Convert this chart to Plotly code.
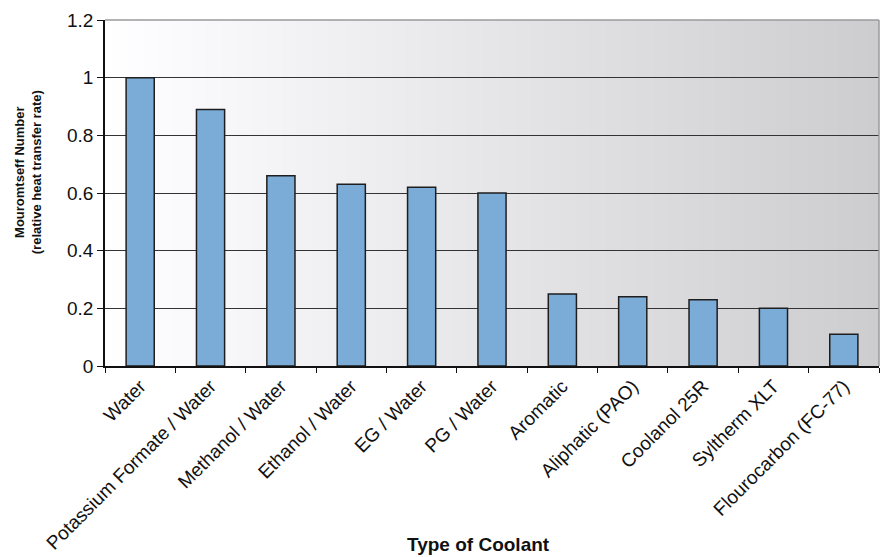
import base64, struct, zlib
import plotly.graph_objects as go

categories = ["Water", "Potassium Formate / Water", "Methanol / Water", "Ethanol / Water",
              "EG / Water", "PG / Water", "Aromatic", "Aliphatic (PAO)", "Coolanol 25R",
              "Syltherm XLT", "Flourocarbon (FC-77)"]
values = [1.0, 0.89, 0.66, 0.63, 0.62, 0.60, 0.25, 0.24, 0.23, 0.20, 0.11]
y_ticks = [0, 0.2, 0.4, 0.6, 0.8, 1, 1.2]
y_tick_labels = ["0", "0.2", "0.4", "0.6", "0.8", "1", "1.2"]
x_title = "Type of Coolant"
y_title = "Mouromtseff Number<br>(relative heat transfer rate)"


def gradient_png(w=256, left=255, right=205):
    row = b"\x00"
    for i in range(w):
        v = int(round(left + (right - left) * i / (w - 1)))
        row += bytes([v, v, min(255, v + 2)])

    def chunk(t, d):
        c = struct.pack(">I", len(d)) + t + d
        return c + struct.pack(">I", zlib.crc32(t + d) & 0xffffffff)
    png = b"\x89PNG\r\n\x1a\n"
    png += chunk(b"IHDR", struct.pack(">IIBBBBB", w, 1, 8, 2, 0, 0, 0))
    png += chunk(b"IDAT", zlib.compress(row))
    png += chunk(b"IEND", b"")
    return "data:image/png;base64," + base64.b64encode(png).decode()


fig = go.Figure()
fig.add_trace(go.Bar(
    x=categories, y=values, width=0.4,
    marker=dict(color="#7aacd7", line=dict(color="#1e1e1e", width=1.5)),
))

fig.update_layout(
    width=885, height=557,
    margin=dict(l=105, r=6, t=20, b=191),
    paper_bgcolor="white",
    plot_bgcolor="white",
    showlegend=False,
    font=dict(family="Liberation Sans, Arial, sans-serif", color="#111111"),
    images=[dict(source=gradient_png(), xref="paper", yref="paper", x=0, y=1,
                 sizex=1, sizey=1, sizing="stretch", layer="below",
                 xanchor="left", yanchor="top")],
    shapes=[
        dict(type="line", xref="paper", yref="paper", x0=0, x1=1, y0=1, y1=1,
             line=dict(color="#9a9a9a", width=1.5), layer="above"),
        dict(type="line", xref="paper", yref="paper", x0=1, x1=1, y0=0, y1=1,
             line=dict(color="#9a9a9a", width=1.5), layer="above"),
    ],
    annotations=[
        dict(text="<b>" + x_title + "</b>", xref="paper", yref="paper",
             x=0.482, y=-0.517, xanchor="center", yanchor="middle",
             showarrow=False, font=dict(size=19)),
        dict(text="<b>" + y_title + "</b>", xref="paper", yref="paper",
             x=-0.0995, y=0.56, xanchor="center", yanchor="middle",
             textangle=-90, showarrow=False, font=dict(size=13)),
    ],
    xaxis=dict(
        tickangle=-45, tickfont=dict(size=19), showgrid=False,
        ticks="outside", ticklen=5, tickcolor="#111111", tickson="boundaries",
        showline=True, linecolor="#111111", linewidth=1.5,
        automargin=False,
    ),
    yaxis=dict(
        range=[0, 1.2], tickvals=y_ticks, ticktext=y_tick_labels,
        tickfont=dict(size=19), showgrid=True, gridcolor="#333333", gridwidth=1,
        ticks="outside", ticklen=6, tickcolor="#111111",
        showline=True, linecolor="#111111", linewidth=1.5, zeroline=False,
        automargin=False,
    ),
)

fig.write_html("out.html")
